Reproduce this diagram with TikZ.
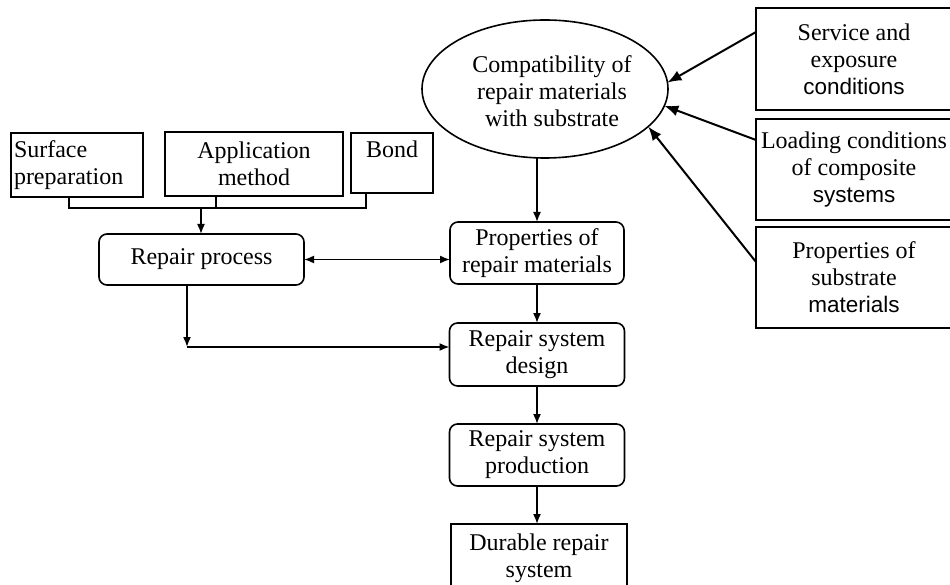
\documentclass[tikz,border=0pt]{standalone}
\usepackage{fontspec}
\setmainfont{Liberation Serif}
\newfontfamily\arialf{Liberation Sans}
\usetikzlibrary{arrows.meta,shapes.geometric}
\newcommand{\sw}[1]{{\arialf\fontsize{22.5}{27}\selectfont #1}}
\begin{document}
\begin{tikzpicture}[x=1pt,y=-1pt,
  every node/.style={font=\fontsize{24}{27}\selectfont, inner sep=0pt, outer sep=0pt},
  sq/.style={draw, line width=1.8pt, align=center},
  rb/.style={draw, line width=1.6pt, rounded corners=8pt, align=center},
  side/.style={draw, line width=2.4pt, align=center},
  conn/.style={line width=1.6pt},
  arr/.style={line width=1.6pt, -{Latex[length=10pt,width=8pt]}},
  darr/.style={line width=1.6pt, {Latex[length=10pt,width=8pt]}-{Latex[length=10pt,width=8pt]}},
  bigarr/.style={line width=2pt, -{Latex[length=14pt,width=11pt]}},
]
\useasboundingbox (0,0) rectangle (950,585);

% top input boxes
\node[sq, align=left, text width=126pt, minimum width=132pt, minimum height=64pt] (surf) at (77,165) {Surface\\preparation};
\node[sq, minimum width=178pt, minimum height=64pt] (app) at (254,164) {Application\\method};
\node[sq, minimum width=82pt, minimum height=60pt] (bond) at (392,163) {Bond\\\mbox{}};

% main column
\node[rb, minimum width=205pt, minimum height=51pt] (rp) at (201.5,259.5) {Repair process};
\node[rb, minimum width=174pt, minimum height=62pt] (props) at (537,253) {Properties of\\repair materials};
\node[rb, minimum width=175pt, minimum height=63pt] (design) at (537,354.5) {Repair system\\design};
\node[rb, minimum width=175pt, minimum height=62pt] (prod) at (537,455) {Repair system\\production};
\node[sq, minimum width=176pt, minimum height=68pt] (dur) at (539,558) {Durable repair\\system};

% ellipse
\node[draw, ellipse, line width=1.6pt, minimum width=246pt, minimum height=138pt] (ell) at (545,89) {};
\node[align=center] (ellt) at (552,91) {Compatibility of\\repair materials\\with substrate};

% right boxes
\node[side, minimum width=196pt, minimum height=102pt] (b1) at (854,59) {Service and\\exposure\\\sw{conditions}};
\node[side, minimum width=196pt, minimum height=101pt] (b2) at (854,169.5) {Loading conditions\\of composite\\\sw{systems}};
\node[side, minimum width=196pt, minimum height=101pt] (b3) at (854,277.5) {Properties of\\substrate\\\sw{materials}};

% bus from top boxes
\coordinate (j1) at (69,208);
\coordinate (j2) at (216,208);
\coordinate (j3) at (366,208);
\coordinate (jm) at (201,208);
\draw[conn] (j1 |- surf.south) -- (j1) -- (j3) -- (j3 |- bond.south);
\draw[conn] (j2 |- app.south) -- (j2);
\draw[arr] (jm) -- (jm |- rp.north);

% main flow
\draw[darr] (rp.east) -- (rp.east -| props.west);
\draw[arr] (ell.south -| props.north) -- (props.north);
\draw[arr] (props.south) -- (design.north);
\draw[arr] (design.south) -- (prod.north);
\draw[arr] (prod.south) -- (prod.south |- dur.north);

\coordinate (c1) at (187,347);
\draw[arr] (c1 |- rp.south) -- (c1);
\draw[arr] (c1) -- (c1 -| design.west);

% side arrows into ellipse
\draw[bigarr] (b1.west |- 0,32) -- (ell.3);
\draw[bigarr] (b2.west |- 0,140) -- (ell.-8);
\draw[bigarr] (b3.west |- 0,262) -- (ell.-20);
\end{tikzpicture}
\end{document}
